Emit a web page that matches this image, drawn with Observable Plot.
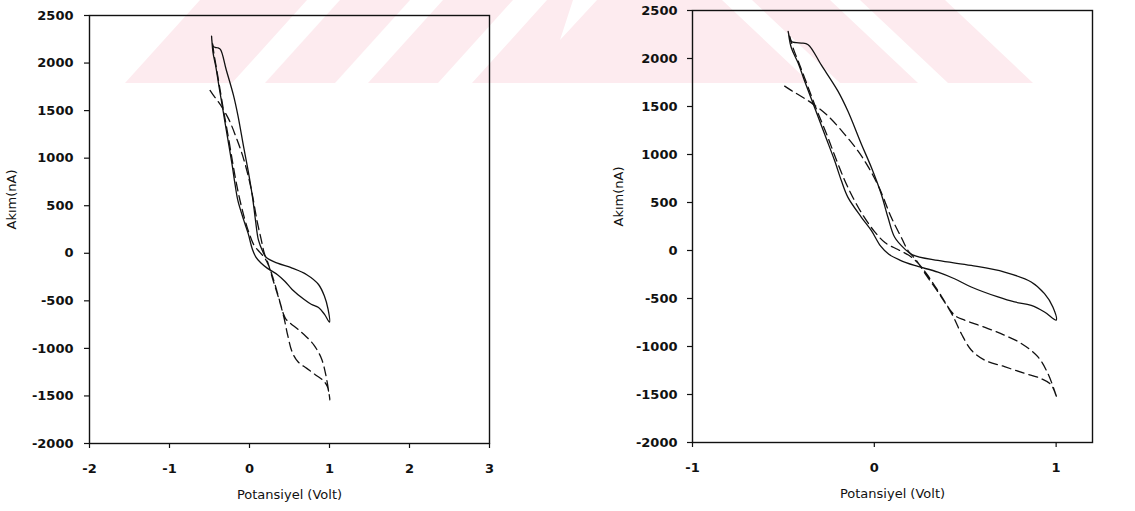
<!DOCTYPE html>
<html>
<head>
<meta charset="utf-8">
<script src="https://cdn.jsdelivr.net/npm/d3@7"></script>
<script src="https://cdn.jsdelivr.net/npm/@observablehq/plot@0.6"></script>
<style>
  html, body { margin: 0; padding: 0; background: #fff; }
  #wrap { position: relative; width: 1135px; height: 511px; overflow: hidden; font-family: "DejaVu Sans", sans-serif; }
  #wrap svg { position: absolute; top: 0; }
</style>
</head>
<body>
<div id="wrap"></div>
<script>
// Cyclic voltammogram, solid run: potential (V) and current (nA), in scan order
const solidPotential = [-0.474, -0.456, -0.43, -0.401, -0.364, -0.291, -0.2, -0.145, -0.071, -0.016, 0.038, 0.075, 0.112, 0.167, 0.21,
  0.35, 0.533, 0.716, 0.863, 0.936, 0.982, 1.0,
  0.936, 0.863, 0.771, 0.68, 0.533, 0.441, 0.35, 0.221, 0.14, 0.08, 0.035,
  -0.016, -0.071, -0.145, -0.181, -0.218, -0.273, -0.328, -0.383, -0.419, -0.456, -0.471];
const solidCurrent = [2282, 2178, 2165, 2161, 2144, 1930, 1660, 1450, 1107, 864, 588, 346, 138, 17, -45,
  -104, -156, -225, -328, -450, -588, -725,
  -640, -571, -536, -484, -380, -294, -225, -156, -100, -40, 45,
  207, 346, 553, 726, 934, 1210, 1487, 1763, 1953, 2109, 2247];

// Dashed run: potential (V) and current (nA), in scan order
const dashedPotential = [-0.493, -0.455, -0.419, -0.346, -0.254, -0.163, -0.09, -0.03, 0.03, 0.093, 0.148, 0.185, 0.23, 0.29, 0.36, 0.43,
  0.478, 0.533, 0.606, 0.716, 0.826, 0.918, 0.973, 1.005,
  0.954, 0.899, 0.808, 0.716, 0.625, 0.497, 0.455, 0.425, 0.39, 0.34, 0.29, 0.24, 0.19, 0.13, 0.06, 0.0,
  -0.06, -0.12, -0.165, -0.21, -0.26, -0.32, -0.37, -0.41, -0.445, -0.465];
const dashedCurrent = [1712, 1665, 1625, 1538, 1400, 1210, 1037, 860, 640, 346, 138, 0, -100, -270, -460, -674,
  -864, -1037, -1141, -1210, -1279, -1335, -1400, -1540,
  -1279, -1106, -968, -882, -813, -726, -693, -640, -540, -390, -250, -130, -50, 10, 80, 200,
  360, 560, 740, 950, 1200, 1480, 1730, 1930, 2100, 2230];

const currentTicks = [-2000, -1500, -1000, -500, 0, 500, 1000, 1500, 2000, 2500];
const widePotentialTicks = [-2, -1, 0, 1, 2, 3];
const narrowPotentialTicks = [-1, 0, 1];
const xTitle = "Potansiyel (Volt)";
const yTitle = "Akım(nA)";

const toRows = (potential, current) => potential.map((v, k) => ({potential: v, current: current[k]}));
const solidRows = toRows(solidPotential, solidCurrent);
const dashedRows = toRows(dashedPotential, dashedCurrent);

const wrap = d3.select("#wrap");

// Faint striped band across the top of the page
const band = wrap.append("svg").attr("width", 1135).attr("height", 511).style("left", "0px");
const stripes = [
  [[200, 0], [307, 0], [232, 83], [125, 83]],
  [[340, 0], [410, 0], [335, 83], [265, 83]],
  [[443, 0], [513, 0], [438, 83], [368, 83]],
  [[547, 0], [573, 0], [560, 40], [597, 0], [722, 0], [810, 83], [472, 83]],
  [[752, 0], [830, 0], [918, 83], [840, 83]],
  [[860, 0], [945, 0], [1033, 83], [948, 83]]
];
band.selectAll("polygon").data(stripes).join("polygon")
  .attr("points", d => d.map(p => p.join(",")).join(" "))
  .attr("fill", "#fdebef");

function panel({width, marginLeft, marginRight, marginTop, marginBottom, xDomain, xTicks, yPad, yTitleDx}) {
  const ink = "#111";
  return Plot.plot({
    width, height: 511, marginLeft, marginRight, marginTop, marginBottom,
    style: {background: "transparent", fontFamily: "DejaVu Sans, sans-serif", color: ink, overflow: "visible"},
    x: {domain: xDomain},
    y: {domain: [-2000, 2500]},
    marks: [
      Plot.frame({stroke: ink, strokeWidth: 1.4}),
      Plot.axisY({ticks: currentTicks, tickSize: 5, tickPadding: yPad, fontSize: 13, fontWeight: "bold",
        tickFormat: d => String(d), label: null, strokeWidth: 1.2}),
      Plot.axisX({ticks: xTicks, tickSize: 5, tickPadding: 15, fontSize: 13, fontWeight: "bold",
        tickFormat: d => String(d), label: null, strokeWidth: 1.2}),
      Plot.line(solidRows, {x: "potential", y: "current", stroke: ink, strokeWidth: 1.3, curve: "catmull-rom"}),
      Plot.line(dashedRows, {x: "potential", y: "current", stroke: ink, strokeWidth: 1.3, strokeDasharray: "9,5", curve: "catmull-rom"}),
      Plot.text([xTitle], {text: d => d, frameAnchor: "bottom", dy: 55, fontSize: 13, fill: ink}),
      Plot.text([yTitle], {text: d => d, frameAnchor: "left", rotate: -90, dx: yTitleDx, fontSize: 13, fill: ink})
    ]
  });
}

const left = panel({width: 560, marginLeft: 89, marginRight: 71, marginTop: 15, marginBottom: 68,
  xDomain: [-2, 3], xTicks: widePotentialTicks, yPad: 11, yTitleDx: -78});
left.style.left = "0px";
wrap.node().appendChild(left);

const right = panel({width: 565, marginLeft: 122, marginRight: 43, marginTop: 10, marginBottom: 69,
  xDomain: [-1, 1.2], xTicks: narrowPotentialTicks, yPad: 10, yTitleDx: -74});
right.style.left = "570px";
wrap.node().appendChild(right);
</script>
</body>
</html>
